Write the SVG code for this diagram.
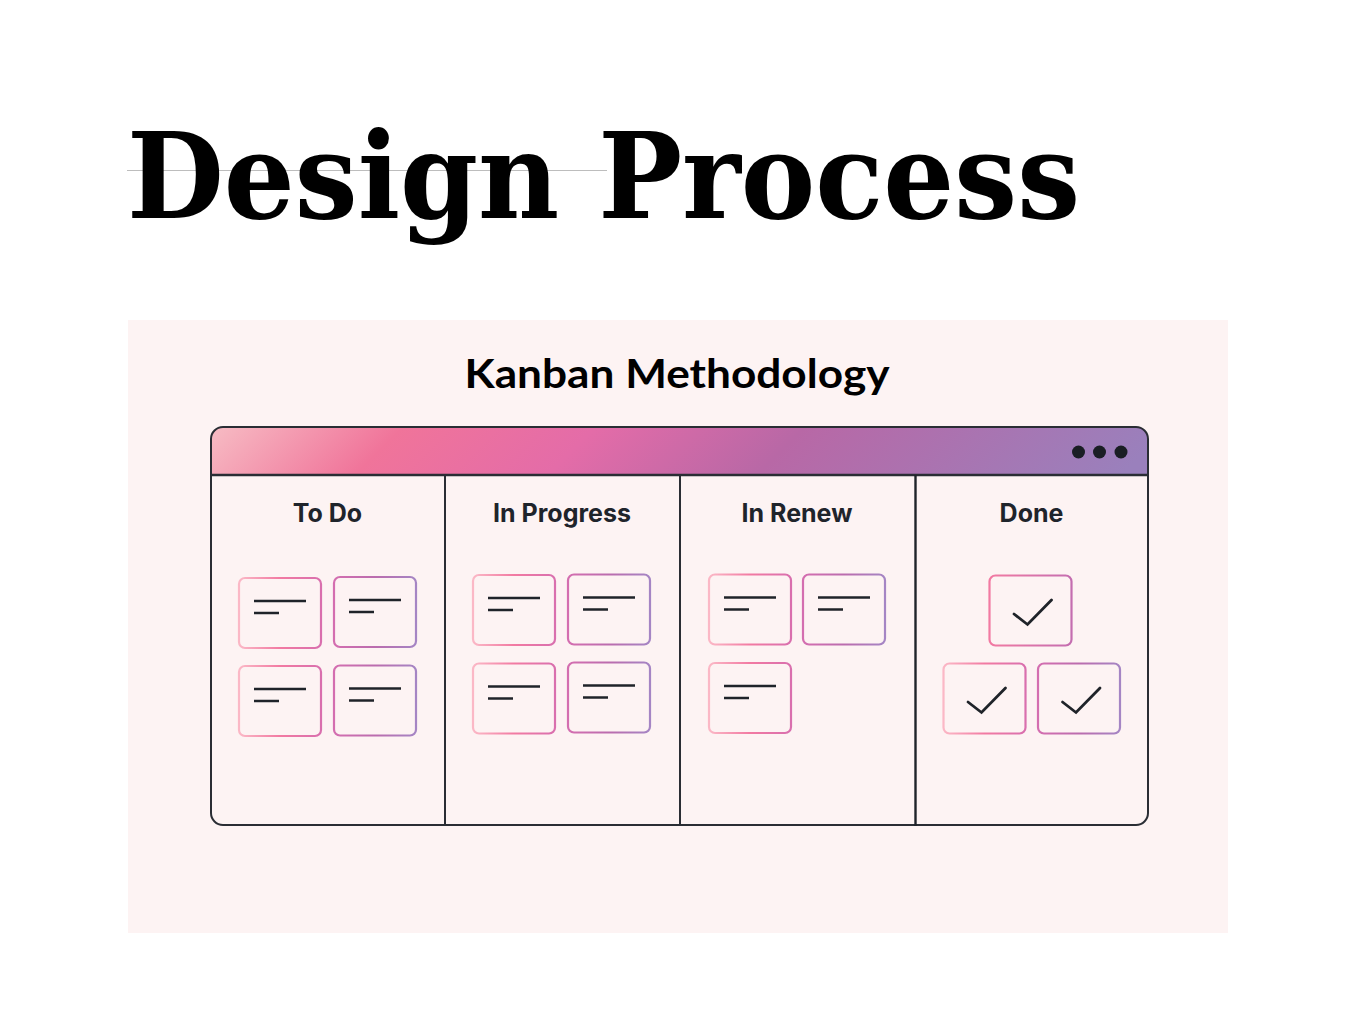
<svg xmlns="http://www.w3.org/2000/svg" width="1357" height="1034" viewBox="0 0 1357 1034">
<style>
.col{font-family:Inter,"Noto Sans",sans-serif;font-weight:700;font-size:25px;fill:#1f242b;text-anchor:middle}
.card{fill:none;stroke-width:2.2}
.ln{stroke:#1f2329;stroke-width:2.5;stroke-linecap:butt}
.chk{fill:none;stroke:#1f2329;stroke-width:2.8;stroke-linecap:round;stroke-linejoin:miter}
.frame{fill:none;stroke:#2a2d34;stroke-width:2}
</style>
<defs>
<linearGradient id="hdr" gradientUnits="userSpaceOnUse" x1="211" y1="427" x2="690" y2="906">
<stop offset="0" stop-color="#f7bcc4"/>
<stop offset="0.2" stop-color="#f0749a"/>
<stop offset="0.4" stop-color="#e46ca8"/>
<stop offset="0.62" stop-color="#b868a6"/>
<stop offset="1" stop-color="#9a80bc"/>
</linearGradient>
<linearGradient id="gA" x1="0" y1="0" x2="1" y2="0">
<stop offset="0" stop-color="#fbb8c6"/>
<stop offset="0.5" stop-color="#f27aa2"/>
<stop offset="1" stop-color="#d96fae"/>
</linearGradient>
<linearGradient id="gB" x1="0" y1="0" x2="1" y2="0">
<stop offset="0" stop-color="#d46eb0"/>
<stop offset="0.5" stop-color="#bb6cae"/>
<stop offset="1" stop-color="#a585c4"/>
</linearGradient>
<linearGradient id="gC" x1="0" y1="0" x2="1" y2="0">
<stop offset="0" stop-color="#f27aa2"/>
<stop offset="1" stop-color="#c46db0"/>
</linearGradient>
<g id="lines">
<line class="ln" x1="15" y1="23" x2="67" y2="23"/>
<line class="ln" x1="15" y1="35" x2="40" y2="35"/>
</g>
<polyline id="tick" class="chk" points="24.5,38.5 38,49 62,24.5"/>
</defs>

<rect width="1357" height="1034" fill="#ffffff"/>

<g id="title">
<line x1="127" y1="170.5" x2="607" y2="170.5" stroke="#bdbdbd" stroke-width="1"/>
<text x="127" y="218" font-family="'DejaVu Serif',serif" font-weight="700" font-size="120" fill="#000" textLength="953" lengthAdjust="spacingAndGlyphs">Design Process</text>
</g>

<g id="panel">
<rect x="128" y="320" width="1100" height="613" fill="#fdf3f3"/>
<text x="677" y="388" text-anchor="middle" font-family="Lato,'Noto Sans',sans-serif" font-weight="700" font-size="41" fill="#000" textLength="425" lengthAdjust="spacingAndGlyphs">Kanban Methodology</text>
</g>

<g id="board">
<path d="M211,475 V439 A12,12 0 0 1 223,427 H1136 A12,12 0 0 1 1148,439 V475 Z" fill="url(#hdr)"/>
<rect x="211" y="427" width="937" height="398" rx="12" class="frame"/>
<line x1="211" y1="475" x2="1148" y2="475" stroke="#2a2d34" stroke-width="2.5"/>
<circle cx="1078.5" cy="452" r="6.5" fill="#1a1e24"/>
<circle cx="1099.5" cy="452" r="6.5" fill="#1a1e24"/>
<circle cx="1121" cy="452" r="6.5" fill="#1a1e24"/>
</g>

<g id="connectors">
<line x1="445" y1="475" x2="445" y2="825" stroke="#2a2d34" stroke-width="2"/>
<line x1="680" y1="475" x2="680" y2="826" stroke="#2a2d34" stroke-width="2"/>
<line x1="915.5" y1="475" x2="915.5" y2="826" stroke="#1f2329" stroke-width="2.4"/>
</g>

<g id="col-todo">
<text class="col" x="327.5" y="522">To Do</text>
<g transform="translate(239,578)"><rect class="card" width="82" height="70" rx="6" stroke="url(#gA)"/><use href="#lines"/></g>
<g transform="translate(334,577)"><rect class="card" width="82" height="70" rx="6" stroke="url(#gB)"/><use href="#lines"/></g>
<g transform="translate(239,666)"><rect class="card" width="82" height="70" rx="6" stroke="url(#gA)"/><use href="#lines"/></g>
<g transform="translate(334,665.5)"><rect class="card" width="82" height="70" rx="6" stroke="url(#gB)"/><use href="#lines"/></g>
</g>

<g id="col-inprogress">
<text class="col" x="562" y="522">In Progress</text>
<g transform="translate(473,575)"><rect class="card" width="82" height="70" rx="6" stroke="url(#gA)"/><use href="#lines"/></g>
<g transform="translate(568,574.5)"><rect class="card" width="82" height="70" rx="6" stroke="url(#gB)"/><use href="#lines"/></g>
<g transform="translate(473,663.5)"><rect class="card" width="82" height="70" rx="6" stroke="url(#gA)"/><use href="#lines"/></g>
<g transform="translate(568,662.5)"><rect class="card" width="82" height="70" rx="6" stroke="url(#gB)"/><use href="#lines"/></g>
</g>

<g id="col-inrenew">
<text class="col" x="797" y="522">In Renew</text>
<g transform="translate(709,574.5)"><rect class="card" width="82" height="70" rx="6" stroke="url(#gA)"/><use href="#lines"/></g>
<g transform="translate(803,574.5)"><rect class="card" width="82" height="70" rx="6" stroke="url(#gB)"/><use href="#lines"/></g>
<g transform="translate(709,663)"><rect class="card" width="82" height="70" rx="6" stroke="url(#gA)"/><use href="#lines"/></g>
</g>

<g id="col-done">
<text class="col" x="1031.5" y="522">Done</text>
<g transform="translate(989.5,575.5)"><rect class="card" width="82" height="70" rx="6" stroke="url(#gC)"/><use href="#tick"/></g>
<g transform="translate(943.5,663.5)"><rect class="card" width="82" height="70" rx="6" stroke="url(#gA)"/><use href="#tick"/></g>
<g transform="translate(1038,663.5)"><rect class="card" width="82" height="70" rx="6" stroke="url(#gB)"/><use href="#tick"/></g>
</g>
</svg>
